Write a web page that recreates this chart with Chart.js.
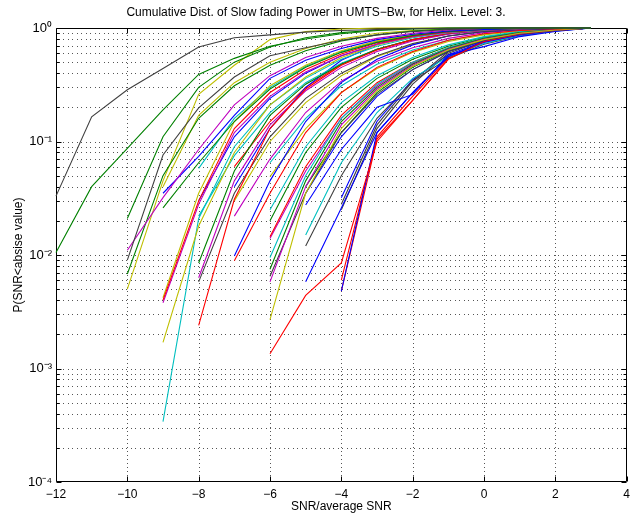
<!DOCTYPE html>
<html>
<head>
<meta charset="utf-8">
<script src="https://cdn.jsdelivr.net/npm/chart.js@4.4.1/dist/chart.umd.min.js"></script>
<style>
  html, body { margin: 0; padding: 0; background: #fff; }
</style>
</head>
<body>
<canvas id="cdfChart" width="635" height="519"></canvas>
<script>
// x axis ticks (dB) and decade labels of the probability axis
const xTicks = [-12, -10, -8, -6, -4, -2, 0, 2, 4];
const yDecades = [-4, -3, -2, -1, 0];
const yDecadeLabels = ['10⁻⁴', '10⁻³', '10⁻²', '10⁻¹', '10⁰'];

// every curve runs in 1 dB steps from its first bin up to +3 dB
const groupStarts = [-12, -10, -9, -8, -7, -6, -5, -4];

const curvesM12 = [
    [0.033, 0.165, 0.286, 0.44, 0.68, 0.82, 0.87, 0.92, 0.95, 0.97, 0.985, 0.995, 1, 1, 1, 1],
    [0.0105, 0.040, 0.087, 0.19, 0.39, 0.54, 0.69, 0.80, 0.89, 0.95, 0.98, 0.995, 1, 1, 1, 1]
];
const colorsM12 = ['k', 'g'];

const curvesM10 = [
    [0.021, 0.11, 0.30, 0.50, 0.68, 0.82, 0.91, 0.96, 0.99, 1, 1, 1, 1, 1],
    [0.009, 0.076, 0.198, 0.37, 0.57, 0.67, 0.78, 0.87, 0.93, 0.97, 0.99, 1, 1, 1],
    [0.011, 0.032, 0.085, 0.21, 0.38, 0.55, 0.69, 0.81, 0.90, 0.96, 0.99, 1, 1, 1],
    [0.0068, 0.05, 0.16, 0.31, 0.47, 0.63, 0.77, 0.87, 0.94, 0.98, 0.99, 1, 1, 1],
    [0.005, 0.045, 0.26, 0.47, 0.79, 0.93, 0.98, 1, 1, 1, 1, 1, 1, 1]
];
const colorsM10 = ['g', 'k', 'm', 'g', 'y'];

const curvesM9 = [
    [0.035, 0.074, 0.17, 0.36, 0.52, 0.66, 0.79, 0.88, 0.94, 0.97, 0.99, 1, 1],
    [0.026, 0.065, 0.15, 0.29, 0.45, 0.61, 0.75, 0.86, 0.93, 0.97, 0.99, 1, 1],
    [0.004, 0.03, 0.13, 0.27, 0.43, 0.59, 0.74, 0.85, 0.93, 0.97, 0.99, 1, 1],
    [0.0038, 0.028, 0.12, 0.25, 0.41, 0.57, 0.72, 0.84, 0.92, 0.97, 0.99, 1, 1],
    [0.0042, 0.035, 0.15, 0.31, 0.47, 0.63, 0.77, 0.87, 0.94, 0.98, 0.99, 1, 1],
    [0.0017, 0.018, 0.08, 0.21, 0.37, 0.55, 0.71, 0.84, 0.92, 0.97, 0.99, 1, 1],
    [0.04, 0.17, 0.33, 0.50, 0.66, 0.80, 0.90, 0.95, 0.98, 0.99, 1, 1, 1],
    [0.00034, 0.021, 0.09, 0.21, 0.36, 0.53, 0.69, 0.82, 0.91, 0.96, 0.99, 1, 1]
];
const colorsM9 = ['b', 'g', 'r', 'm', 'y', 'y', 'y', 'c'];

const curvesM8 = [
    [0.0024, 0.031, 0.13, 0.29, 0.47, 0.64, 0.79, 0.90, 0.96, 0.99, 1, 1],
    [0.0063, 0.045, 0.14, 0.28, 0.45, 0.62, 0.77, 0.88, 0.95, 0.98, 1, 1],
    [0.0058, 0.035, 0.11, 0.24, 0.40, 0.57, 0.73, 0.85, 0.93, 0.97, 0.99, 1],
    [0.0085, 0.055, 0.17, 0.32, 0.48, 0.65, 0.79, 0.89, 0.95, 0.98, 1, 1],
    [0.022, 0.075, 0.18, 0.33, 0.49, 0.65, 0.79, 0.89, 0.95, 0.98, 1, 1],
    [0.058, 0.16, 0.30, 0.46, 0.62, 0.76, 0.87, 0.94, 0.97, 0.99, 1, 1],
    [0.03, 0.11, 0.24, 0.40, 0.57, 0.72, 0.84, 0.92, 0.97, 0.99, 1, 1]
];
const colorsM8 = ['r', 'm', 'k', 'g', 'c', 'c', 'b'];

const curvesM7 = [
    [0.0098, 0.045, 0.15, 0.33, 0.53, 0.71, 0.85, 0.93, 0.97, 0.99, 1],
    [0.0089, 0.035, 0.12, 0.27, 0.45, 0.62, 0.78, 0.89, 0.95, 0.98, 1],
    [0.022, 0.07, 0.18, 0.34, 0.51, 0.67, 0.81, 0.91, 0.96, 0.99, 1],
    [0.04, 0.13, 0.30, 0.52, 0.72, 0.86, 0.94, 0.98, 0.99, 1, 1],
    [0.06, 0.15, 0.30, 0.48, 0.65, 0.79, 0.89, 0.95, 0.98, 1, 1],
    [0.03, 0.10, 0.22, 0.38, 0.56, 0.72, 0.85, 0.93, 0.97, 0.99, 1]
];
const colorsM7 = ['b', 'r', 'm', 'b', 'r', 'y'];

const curvesM6 = [
    [0.0027, 0.035, 0.13, 0.28, 0.46, 0.64, 0.79, 0.90, 0.96, 1],
    [0.0058, 0.04, 0.14, 0.29, 0.47, 0.65, 0.80, 0.90, 0.96, 1],
    [0.0065, 0.035, 0.12, 0.26, 0.43, 0.62, 0.78, 0.89, 0.95, 1],
    [0.0075, 0.045, 0.15, 0.30, 0.48, 0.66, 0.81, 0.91, 0.96, 1],
    [0.0095, 0.05, 0.16, 0.32, 0.50, 0.67, 0.82, 0.91, 0.96, 1],
    [0.025, 0.09, 0.22, 0.38, 0.55, 0.71, 0.84, 0.93, 0.97, 1],
    [0.049, 0.13, 0.27, 0.44, 0.61, 0.76, 0.87, 0.94, 0.98, 1],
    [0.065, 0.16, 0.31, 0.48, 0.64, 0.78, 0.88, 0.95, 0.98, 1],
    [0.0145, 0.06, 0.17, 0.33, 0.50, 0.67, 0.81, 0.91, 0.96, 1],
    [0.014, 0.055, 0.16, 0.31, 0.49, 0.66, 0.81, 0.91, 0.96, 1],
    [0.02, 0.08, 0.20, 0.36, 0.53, 0.69, 0.83, 0.92, 0.97, 1],
    [0.00135, 0.0044, 0.0085, 0.10, 0.23, 0.53, 0.76, 0.88, 0.95, 1]
];
const colorsM6 = ['y', 'm', 'k', 'g', 'c', 'c', 'y', 'c', 'r', 'm', 'g', 'r'];

const curvesM5 = [
    [0.0058, 0.026, 0.12, 0.27, 0.56, 0.75, 0.87, 0.95, 1],
    [0.0276, 0.085, 0.20, 0.26, 0.58, 0.685, 0.84, 0.93, 1],
    [0.015, 0.065, 0.18, 0.36, 0.56, 0.73, 0.86, 0.94, 1],
    [0.012, 0.05, 0.16, 0.34, 0.54, 0.72, 0.85, 0.94, 1],
    [0.035, 0.11, 0.25, 0.43, 0.62, 0.77, 0.88, 0.95, 1],
    [0.04, 0.12, 0.27, 0.45, 0.63, 0.78, 0.89, 0.96, 1]
];
const colorsM5 = ['b', 'b', 'c', 'k', 'b', 'g'];

const curvesM4 = [
    [0.025, 0.13, 0.32, 0.60, 0.78, 0.89, 0.96, 1],
    [0.028, 0.14, 0.34, 0.62, 0.79, 0.90, 0.96, 1],
    [0.032, 0.15, 0.35, 0.58, 0.76, 0.88, 0.95, 1],
    [0.0048, 0.12, 0.27, 0.56, 0.75, 0.87, 0.95, 1],
    [0.006, 0.11, 0.25, 0.55, 0.77, 0.89, 0.96, 1],
    [0.0048, 0.105, 0.23, 0.54, 0.76, 0.88, 0.95, 1]
];
const colorsM4 = ['k', 'k', 'b', 'b', 'r', 'r'];

const groupCurves = [curvesM12, curvesM10, curvesM9, curvesM8, curvesM7, curvesM6, curvesM5, curvesM4];
const groupColors = [colorsM12, colorsM10, colorsM9, colorsM8, colorsM7, colorsM6, colorsM5, colorsM4];

// classic matlab line colours
const lineColor = {
    b: '#0000ff', g: '#008000', r: '#ff0000', c: '#00bfbf',
    m: '#bf00bf', y: '#bfbf00', k: '#404040'
};

const fontFam = "'Liberation Sans', Arial, Helvetica, sans-serif";

function isDecade(v) {
    const l = Math.log10(v);
    return Math.abs(l - Math.round(l)) < 1e-9;
}

// log grid: 1..9 x 10^k for every decade
const yGrid = [];
for (let e = -4; e < 0; e++) {
    for (let m = 1; m < 10; m++) yGrid.push(m * Math.pow(10, e));
}
yGrid.push(1);

const datasets = [];
groupCurves.forEach((curves, g) => {
    curves.forEach((vals, i) => {
        datasets.push({
            data: vals.map((v, k) => ({ x: groupStarts[g] + k, y: v })),
            borderColor: lineColor[groupColors[g][i]],
            borderWidth: 1.1,
            pointRadius: 0,
            tension: 0,
            clip: 3
        });
    });
});

// dotted grid, box and inward tick marks
const axesBox = {
    id: 'axesBox',
    beforeDatasetsDraw(chart) {
        const { ctx, chartArea: a, scales } = chart;
        const l = Math.round(a.left) + 0.5, r = Math.round(a.right) - 0.5;
        const t = Math.round(a.top) + 0.5, b = Math.round(a.bottom) - 0.5;
        ctx.save();
        ctx.fillStyle = '#555';
        xTicks.slice(1, -1).forEach(v => {
            const px = Math.round(scales.x.getPixelForValue(v));
            for (let y = t + 2; y < b; y += 4) ctx.fillRect(px, Math.round(y), 1, 1);
        });
        yGrid.slice(1, -1).forEach(v => {
            const py = Math.round(scales.y.getPixelForValue(v));
            for (let x = l + 2; x < r; x += 4.5) ctx.fillRect(Math.round(x), py, 1, 1);
        });
        ctx.strokeStyle = '#000';
        ctx.lineWidth = 1;
        ctx.beginPath();
        ctx.rect(l, t, r - l, b - t);
        xTicks.forEach(v => {
            const px = Math.round(scales.x.getPixelForValue(v)) + 0.5;
            ctx.moveTo(px, b); ctx.lineTo(px, b - 5);
            ctx.moveTo(px, t); ctx.lineTo(px, t + 5);
        });
        yGrid.forEach(v => {
            const py = Math.round(scales.y.getPixelForValue(v)) + 0.5;
            const len = isDecade(v) ? 5 : 3;
            ctx.moveTo(l, py); ctx.lineTo(l + len, py);
            ctx.moveTo(r, py); ctx.lineTo(r - len, py);
        });
        ctx.stroke();
        ctx.restore();
    }
};

new Chart(document.getElementById('cdfChart'), {
    type: 'scatter',
    data: { datasets: datasets },
    plugins: [axesBox],
    options: {
        responsive: false,
        animation: false,
        devicePixelRatio: 1,
        showLine: true,
        layout: { padding: { left: 0, right: 3, top: 0, bottom: 0 } },
        plugins: {
            legend: { display: false },
            tooltip: { enabled: false },
            title: {
                display: true,
                text: 'Cumulative Dist. of Slow fading Power in UMTS−Bw, for Helix. Level: 3.',
                color: '#000',
                font: { family: fontFam, size: 12, weight: 'normal' },
                padding: { top: 5, bottom: 8.6 }
            }
        },
        scales: {
            x: {
                type: 'linear',
                min: -12,
                max: 4,
                afterBuildTicks: s => { s.ticks = xTicks.map(v => ({ value: v })); },
                afterFit: s => { s.height = 37; },
                ticks: {
                    autoSkip: false,
                    maxRotation: 0,
                    padding: 5,
                    color: '#000',
                    font: { family: fontFam, size: 12 },
                    callback: v => String(v).replace('-', '−')
                },
                grid: { display: false, drawTicks: false },
                border: { display: false },
                title: {
                    display: true,
                    text: 'SNR/average SNR',
                    color: '#000',
                    font: { family: fontFam, size: 12 },
                    padding: { top: 0, bottom: 5.5 }
                }
            },
            y: {
                type: 'logarithmic',
                min: 1e-4,
                max: 1,
                afterBuildTicks: s => { s.ticks = yGrid.map(v => ({ value: v })); },
                afterFit: s => { s.width = 56; },
                ticks: {
                    autoSkip: false,
                    padding: 4,
                    color: '#000',
                    font: { family: fontFam, size: 13 },
                    callback: v => isDecade(v) ? yDecadeLabels[yDecades.indexOf(Math.round(Math.log10(v)))] : ''
                },
                grid: { display: false, drawTicks: false },
                border: { display: false },
                title: {
                    display: true,
                    text: 'P(SNR<absise value)',
                    color: '#000',
                    font: { family: fontFam, size: 12 },
                    padding: { top: 11, bottom: 0 }
                }
            }
        }
    }
});
</script>
</body>
</html>
